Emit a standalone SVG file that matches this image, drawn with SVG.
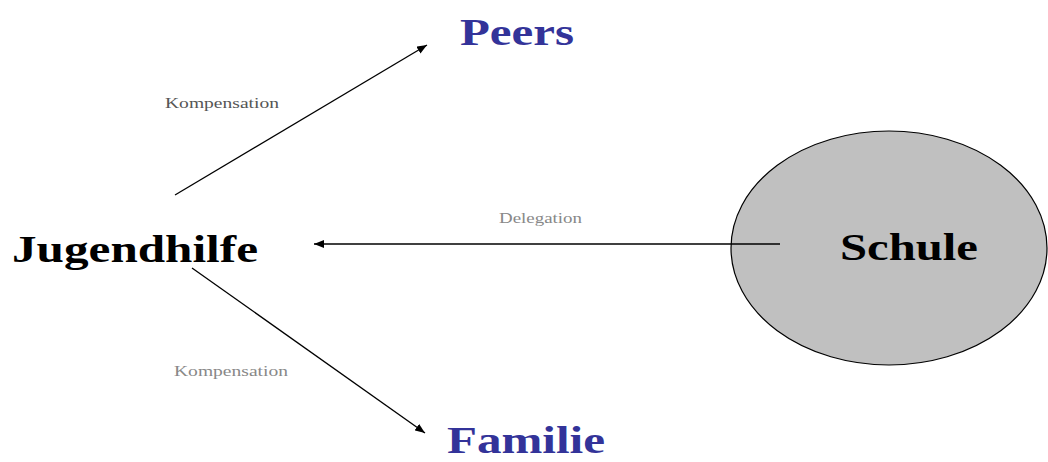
<svg xmlns="http://www.w3.org/2000/svg" width="1048" height="462" viewBox="0 0 1048 462">
  <style>
    .big { font-family: "Liberation Serif", "DejaVu Serif", serif; font-weight: bold; font-size: 38px; }
    .blue { fill: #333399; }
    .black { fill: #000000; }
    .lbl { font-family: "Liberation Serif", "DejaVu Serif", serif; font-size: 15px; }
    .edge { stroke: #000000; stroke-width: 1.3; fill: none; marker-end: url(#arrow); }
  </style>
  <defs>
    <marker id="arrow" viewBox="0 0 10 8" refX="10" refY="4" markerWidth="10" markerHeight="8" markerUnits="userSpaceOnUse" orient="auto">
      <path d="M0,0 L10,4 L0,8 Z" fill="#000000"/>
    </marker>
  </defs>
  <rect width="1048" height="462" fill="#ffffff"/>

  <g id="schule">
    <ellipse cx="889" cy="248" rx="158" ry="117" fill="#c0c0c0" stroke="#000000" stroke-width="1.2"/>
    <text class="big black" x="909" y="260" text-anchor="middle" textLength="138" lengthAdjust="spacingAndGlyphs">Schule</text>
  </g>

  <g id="jugendhilfe">
    <text class="big black" x="12" y="262" textLength="246" lengthAdjust="spacingAndGlyphs">Jugendhilfe</text>
  </g>

  <g id="peers">
    <text class="big blue" x="460" y="45" textLength="114" lengthAdjust="spacingAndGlyphs">Peers</text>
  </g>

  <g id="familie">
    <text class="big blue" x="447" y="453" textLength="158" lengthAdjust="spacingAndGlyphs">Familie</text>
  </g>

  <g id="connectors">
    <line class="edge" x1="175" y1="195" x2="427" y2="45"/>
    <line class="edge" x1="192" y1="268" x2="425" y2="433"/>
    <line class="edge" x1="780" y1="244" x2="314" y2="244"/>
    <text class="lbl" x="165" y="108" fill="#555555" textLength="114" lengthAdjust="spacingAndGlyphs">Kompensation</text>
    <text class="lbl" x="174" y="376" fill="#888888" textLength="114" lengthAdjust="spacingAndGlyphs">Kompensation</text>
    <text class="lbl" x="499" y="223" fill="#888888" textLength="83" lengthAdjust="spacingAndGlyphs">Delegation</text>
  </g>
</svg>
